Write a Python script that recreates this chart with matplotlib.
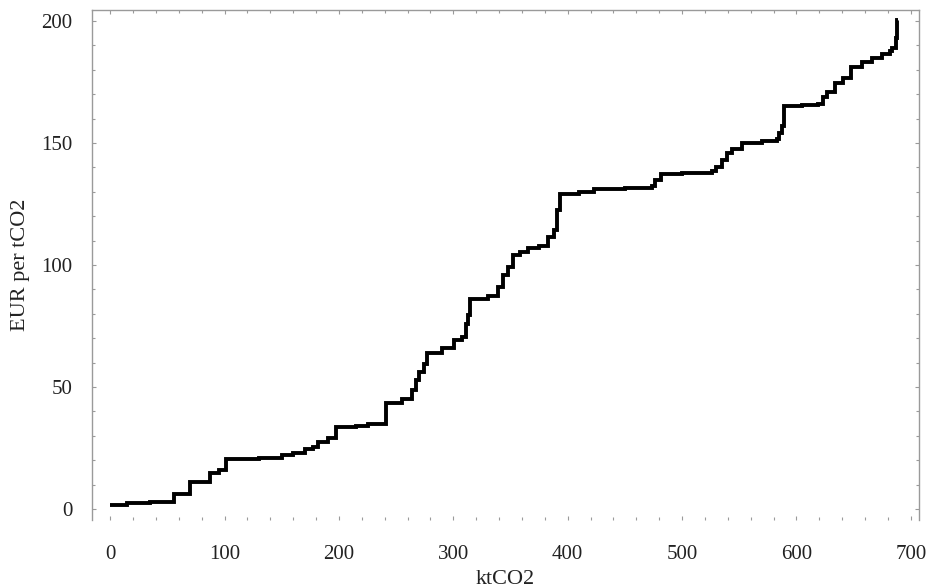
import matplotlib
matplotlib.use("Agg")
import matplotlib.pyplot as plt
from matplotlib.ticker import MultipleLocator

# marginal abatement cost curve: start of each block (ktCO2) and its cost (EUR/tCO2)
block_start = [
    0, 15, 35, 56, 70, 87, 95, 101, 130, 150, 160, 170, 177, 182, 190, 197,
    215, 225, 241, 255, 264, 267, 270, 274, 277, 290, 301, 308, 311, 313,
    315, 330, 339, 343, 348, 352, 358, 365, 375, 383, 388, 391, 393, 410,
    423, 450, 474, 476, 482, 500, 526, 530, 535, 539, 544, 552, 570, 583,
    585, 587, 589, 605, 619, 623, 627, 634, 641, 648, 657, 666, 675, 682,
    684, 687, 688,
]
block_end = 688.6
block_cost = [
    1.8, 2.3, 2.8, 6.0, 11.2, 14.8, 16.0, 20.5, 21.0, 22.0, 23.0, 24.5, 25.5,
    27.5, 29.0, 33.6, 34.2, 34.8, 43.5, 45.0, 48.8, 52.9, 56.0, 59.5, 64.0,
    66.0, 69.3, 70.5, 76.0, 79.5, 86.0, 87.3, 91.0, 95.9, 99.0, 104.0, 105.5,
    107.0, 108.0, 111.5, 114.3, 122.5, 129.0, 130.0, 131.0, 131.5, 132.5,
    135.0, 137.3, 137.8, 138.5, 140.0, 143.0, 146.0, 147.5, 150.0, 150.7,
    151.5, 154.0, 157.0, 165.0, 165.5, 166.0, 169.0, 171.0, 174.6, 176.6,
    181.0, 183.0, 185.0, 186.5, 187.5, 189.0, 193.0, 200.5,
]

plt.rcParams["font.family"] = ["Liberation Serif", "DejaVu Serif"]

fig = plt.figure(figsize=(9.29, 5.87), dpi=100)
ax = fig.add_axes([0.099, 0.114, 0.890, 0.869])

ax.stairs(block_cost, block_start + [block_end], baseline=None,
          color="black", linewidth=2.8)

ax.set_xlim(-16, 707)
ax.set_ylim(-4.5, 204.5)
ax.set_xticks(range(0, 701, 100))
ax.set_yticks(range(0, 201, 50))
ax.xaxis.set_minor_locator(MultipleLocator(20))
ax.yaxis.set_minor_locator(MultipleLocator(10))

grey = "#9a9a9a"
for side in ["left", "right", "top"]:
    ax.spines[side].set_color(grey)
    ax.spines[side].set_linewidth(1.0)
ax.spines["bottom"].set_visible(False)

ax.tick_params(which="both", direction="in", color=grey,
               top=True, right=True, width=0.8)
ax.tick_params(which="major", length=3)
ax.tick_params(which="minor", length=2)
ax.tick_params(axis="x", which="major", labelsize=15, pad=18, labelcolor="#222222")
ax.tick_params(axis="y", which="major", labelsize=15, pad=14, labelcolor="#222222")

ax.set_xlabel("ktCO2", fontsize=16, color="#222222", labelpad=4)
ax.set_ylabel("EUR per tCO2", fontsize=16, color="#222222", labelpad=8)

fig.savefig("out.png", dpi=100)
plt.close(fig)
